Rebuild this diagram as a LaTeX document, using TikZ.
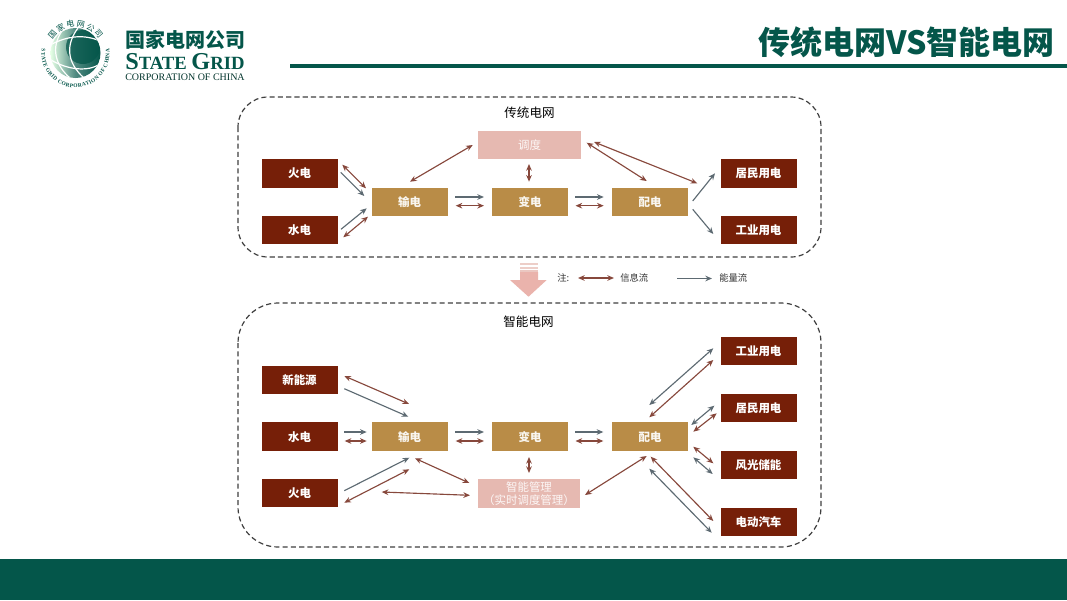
\documentclass[tikz,border=0pt]{standalone}
\usepackage{fontspec}
\setmainfont{Liberation Serif}
\newfontfamily\cjk{Noto Sans CJK SC}
\newfontfamily\serifb{Liberation Serif}
\usetikzlibrary{arrows.meta,shapes.geometric,positioning,decorations.text}
\definecolor{sgreen}{HTML}{04564A}
\definecolor{darkred}{HTML}{761F08}
\definecolor{gold}{HTML}{B98C47}
\definecolor{pinkbox}{HTML}{E6B9B1}
\definecolor{infoc}{HTML}{87483C}
\definecolor{energyc}{HTML}{5D6A72}
\definecolor{dashc}{HTML}{3F3F3F}
\tikzset{
  srcbox/.style={rectangle,fill=darkred,text=white,minimum width=57pt,minimum height=21.4pt,inner sep=0pt,font=\cjk\bfseries\fontsize{8.6}{10}\selectfont},
  goldbox/.style={srcbox,fill=gold,text=white!92!gold},
  pinkb/.style={rectangle,fill=pinkbox,text=white!88!pinkbox,minimum width=77pt,minimum height=21.6pt,inner sep=0pt,align=center,font=\cjk\fontsize{8.6}{9.6}\selectfont},
  frame/.style={draw=dashc,line width=0.9pt,dash pattern=on 3.8pt off 2.4pt},
  infoflow/.style={draw=infoc,line width=0.85pt,{Stealth[length=5pt,width=4.2pt]}-{Stealth[length=5pt,width=4.2pt]}},
  energyflow/.style={draw=energyc,line width=0.85pt,-{Stealth[length=5pt,width=4.2pt]}},
  energyboth/.style={draw=energyc,line width=0.85pt,{Stealth[length=5pt,width=4.2pt]}-{Stealth[length=5pt,width=4.2pt]}},
  grouptitle/.style={inner sep=0pt,text=black,font=\cjk\fontsize{9.4}{11}\selectfont},
  notetext/.style={inner sep=0pt,text=black!80,font=\cjk\fontsize{7}{8}\selectfont},
  ringcjk/.style={inner sep=0pt,text=sgreen,font=\cjk\fontsize{6}{7}\selectfont},
}
\newcommand{\conn}[4]{%
  \coordinate (#1-a) at (#3);
  \coordinate (#1-b) at (#4);
  \draw[#2] (#1-a) -- (#1-b);
}
\begin{document}
\begin{tikzpicture}[x=0.75pt,y=-0.75pt]
\useasboundingbox (0,0) rectangle (1067,600);
\fill[white] (0,0) rectangle (1067,600);
% bands
\fill[sgreen] (0,559) rectangle (1067,600);
\fill[sgreen] (290,64) rectangle (1067,68);
\node[anchor=east,inner sep=0pt,text=sgreen,font=\cjk\bfseries\fontsize{24}{28}\selectfont] (title) at (1055,42) {传统电网VS智能电网};
% logo
\shade[left color=green!10!white,right color=sgreen,middle color=sgreen!70!white] (75.5,53) circle (25);
\begin{scope}
\clip (75.5,53) circle (25);
\fill[sgreen,opacity=.75] (83,47) circle (17);
\draw[white,line width=0.9pt] (52,44) .. controls (68,36) and (84,34) .. (100,41);
\draw[white,line width=0.9pt] (51,60) .. controls (68,70) and (88,72) .. (100,64);
\draw[white,line width=0.9pt] (62,31) .. controls (50,48) and (56,66) .. (70,78);
\draw[white,line width=0.9pt] (78,28) .. controls (66,44) and (66,62) .. (84,78);
\end{scope}
\foreach \ch [count=\i] in {国,家,电,网,公,司}{
  \pgfmathsetmacro{\th}{140-(\i-1)*20}
  \pgfmathsetmacro{\px}{75.5+30*cos(\th)}
  \pgfmathsetmacro{\py}{53.5-30*sin(\th)}
  \pgfmathsetmacro{\ro}{\th-90}
  \node[ringcjk,rotate=\ro] (ringc\i) at (\px,\py) {\ch};
}
\begin{scope}[shift={(75.5,53.5)},y=0.75pt]
\path[decorate,decoration={text along path,text align={fit to path},
  text={|\serifb\bfseries\fontsize{4.1}{5}\selectfont\color{sgreen}|STATE GRID CORPORATION OF CHINA}}]
  (172:34) arc[start angle=172,end angle=368,radius=34];
\end{scope}
\node[anchor=west,inner sep=0pt,text=sgreen,font=\cjk\bfseries\fontsize{15}{17}\selectfont] (logoa) at (125,40) {国家电网公司};
\node[anchor=west,inner sep=0pt,text=sgreen,font=\serifb\bfseries\fontsize{18.2}{22}\selectfont] (logob) at (125,62) {S\fontsize{14}{22}\selectfont TATE \fontsize{18.2}{22}\selectfont G\fontsize{14}{22}\selectfont RID};
\node[anchor=west,inner sep=0pt,text=sgreen!60!black,font=\serifb\fontsize{7.5}{8}\selectfont] (logoc) at (125,77.5) {CORPORATION OF CHINA};
% frames
\draw[frame,rounded corners=22.5pt] (238,97) rectangle (821,257);
\draw[frame,rounded corners=30pt] (238,303) rectangle (821,547);
\node[grouptitle] (t1) at (529.5,113) {传统电网};
\node[grouptitle] (t2) at (528.5,322) {智能电网};
% upper nodes
\node[srcbox] (fire1) at (299.5,173.5) {火电};
\node[srcbox] (water1) at (299.5,230) {水电};
\node[goldbox] (trans1) at (409.5,202) {输电};
\node[goldbox] (sub1) at (530,202) {变电};
\node[goldbox] (dist1) at (650,202) {配电};
\node[pinkb] (disp) at (529.5,145) {调度};
\node[srcbox] (res1) at (758.5,173.5) {居民用电};
\node[srcbox] (ind1) at (758.5,230) {工业用电};
% upper arrows
\conn{u1}{infoflow}{342.3,164.7}{366,188.3}
\conn{u2}{energyflow}{340.7,172.3}{364.3,196}
\conn{u3}{energyflow}{341,229.3}{366.7,208.3}
\conn{u4}{infoflow}{343.3,237.3}{368,216.7}
\conn{u5}{infoflow}{410,181.7}{472.7,145}
\conn{u6}{energyflow}{455,197}{484,197}
\conn{u7}{infoflow}{455.7,205.7}{484,205.7}
\conn{u8}{infoflow}{529,164}{529,181.7}
\conn{u9}{energyflow}{575,197}{603.7,197}
\conn{u10}{infoflow}{575.5,205.7}{603.7,205.7}
\conn{u11}{infoflow}{586.7,142.7}{646.7,181}
\conn{u12}{infoflow}{594,142}{697.3,183.3}
\conn{u13}{energyflow}{692.7,201}{715,173.3}
\conn{u14}{energyflow}{692.7,209.3}{713.3,234}
% transition arrow and legend
\fill[pinkbox!92!red!90!white] (520,272) -- (538,272) -- (538,280) -- (546.7,280) -- (528.5,296.7) -- (510,280) -- (520,280) -- cycle;
\fill[pinkbox!70!white] (520,263) rectangle (538,265);
\fill[pinkbox!70!white] (520,266.5) rectangle (538,268.5);
\fill[pinkbox!80!white] (520,269.5) rectangle (538,272);
\node[notetext,anchor=west] (noteh) at (557,278) {注:};
\conn{l1}{infoflow}{578,278}{614,278}
\node[notetext,anchor=west] (notei) at (620,278) {信息流};
\conn{l2}{energyflow}{677,278.5}{712,278.5}
\node[notetext,anchor=west] (notee) at (719,278) {能量流};
% lower nodes
\node[srcbox] (newe) at (299.5,380) {新能源};
\node[srcbox] (water2) at (299.5,436.7) {水电};
\node[srcbox] (fire2) at (299.5,493) {火电};
\node[goldbox] (trans2) at (409.5,436.7) {输电};
\node[goldbox] (sub2) at (530,436.7) {变电};
\node[goldbox] (dist2) at (650,436.7) {配电};
\node[pinkb] (smart) at (529,493.5) {智能管理\\（实时调度管理）};
\node[srcbox] (ind2) at (758.5,351.2) {工业用电};
\node[srcbox] (res2) at (758.5,408.2) {居民用电};
\node[srcbox] (wind) at (758.5,465.2) {风光储能};
\node[srcbox] (ev) at (758.5,522.2) {电动汽车};
% lower arrows
\conn{d1}{infoflow}{344.3,376}{409,404}
\conn{d2}{energyflow}{344.3,388.7}{408.3,416.7}
\conn{d3}{energyflow}{344,432}{366.7,432}
\conn{d4}{infoflow}{344.7,441}{366.7,441}
\conn{d5}{energyflow}{455,432}{484,432}
\conn{d6}{infoflow}{455.7,441}{484,441}
\conn{d7}{energyflow}{344.3,490.7}{409.3,457.7}
\conn{d8}{infoflow}{344.3,502.7}{409.3,469.3}
\conn{d9}{infoflow}{415,458.3}{469.3,483}
\conn{d10}{infoflow}{381.7,492}{470,495.3}
\conn{d11}{infoflow}{529,457}{529,473}
\conn{d12}{energyflow}{575,432}{603.3,432}
\conn{d13}{infoflow}{575.5,441}{603.3,441}
\conn{d14}{infoflow}{585,495}{646.7,456}
\conn{d15}{energyboth}{649.3,405}{713.3,348.3}
\conn{d16}{infoflow}{649.3,417.3}{713.3,360}
\conn{d17}{energyboth}{691.3,425}{714.3,405.7}
\conn{d18}{infoflow}{693.3,431.7}{716.7,413.3}
\conn{d19}{infoflow}{693.3,446.7}{713.3,463.3}
\conn{d20}{energyboth}{693.3,457.3}{712.7,474}
\conn{d21}{infoflow}{650.7,456.7}{713.3,521}
\conn{d22}{energyboth}{649.3,468.7}{711.7,532.7}
\end{tikzpicture}
\end{document}
